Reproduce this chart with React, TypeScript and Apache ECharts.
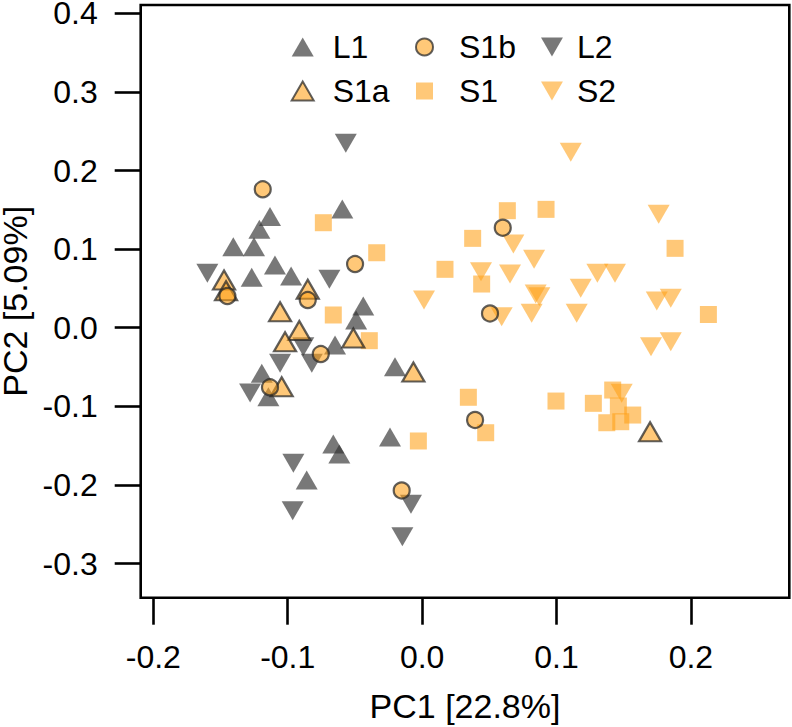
import React, { useEffect, useRef } from "react";
import * as echarts from "echarts";

const xTicks = [-0.2, -0.1, 0.0, 0.1, 0.2];
const yTicks = [-0.3, -0.2, -0.1, 0.0, 0.1, 0.2, 0.3, 0.4];

const L1 = [
  [-0.0594, 0.151], [-0.1132, 0.1415], [-0.1211, 0.1252], [-0.1405, 0.1031],
  [-0.1251, 0.1031], [-0.1268, 0.0641], [-0.1095, 0.0798], [-0.0975, 0.0658],
  [-0.0438, 0.0276], [-0.0491, 0.0099], [-0.0648, -0.0221], [-0.0202, -0.0496],
  [-0.1193, -0.058], [-0.1144, -0.0878], [-0.0239, -0.139], [-0.0661, -0.148],
  [-0.0616, -0.1607], [-0.0859, -0.1938],
];
const L2 = [
  [-0.0568, 0.2346], [-0.1598, 0.0692], [-0.069, 0.0616], [-0.1057, -0.0453],
  [-0.0884, -0.0242], [-0.0821, -0.0453], [-0.128, -0.0831], [-0.0958, -0.1725],
  [-0.0963, -0.2328], [-0.0083, -0.2247], [-0.0147, -0.2659],
];
const S1a = [
  [-0.1474, 0.0607], [-0.1459, 0.0471], [-0.0851, 0.0489], [-0.1057, 0.0204],
  [-0.0914, -0.0036], [-0.102, -0.0178], [-0.0512, -0.0131], [-0.1045, -0.0751],
  [-0.0065, -0.0564], [0.1696, -0.1323],
];
const S1b = [
  [-0.1186, 0.1761], [-0.0499, 0.081], [-0.1449, 0.0403], [-0.0851, 0.0352],
  [-0.0754, -0.0335], [-0.1132, -0.0758], [-0.0152, -0.2071], [0.06, 0.1272],
  [0.0505, 0.0181], [0.0394, -0.1174],
];
const S1 = [
  [-0.0735, 0.1336], [-0.0338, 0.0954], [-0.0661, 0.0162], [-0.0393, -0.0165],
  [-0.0028, -0.1441], [0.0634, 0.1489], [0.0922, 0.1506], [0.0376, 0.1137],
  [0.017, 0.0743], [0.0443, 0.0556], [0.1882, 0.101], [0.213, 0.0168],
  [0.0344, -0.0885], [0.0473, -0.1336], [0.0996, -0.0933], [0.1274, -0.0962],
  [0.1418, -0.0793], [0.146, -0.0996], [0.1567, -0.1111], [0.1374, -0.1209],
  [0.1478, -0.1196],
];
const S2 = [
  [0.1106, 0.2232], [0.0679, 0.1065], [0.176, 0.1443], [0.0833, 0.087],
  [0.0438, 0.0712], [0.0654, 0.0683], [0.1304, 0.0692], [0.1435, 0.0692],
  [0.118, 0.0501], [0.0845, 0.0429], [0.0872, 0.0394], [0.0014, 0.0352],
  [0.1746, 0.034], [0.185, 0.0374], [0.0592, 0.014], [0.0815, 0.0183],
  [0.115, 0.0183], [0.1703, -0.0242], [0.185, -0.0178], [0.1485, -0.0835],
];

const GREY = "rgba(51,51,51,0.83)";
const ORANGE = "rgba(255,160,20,0.72)";
const EDGE = "rgba(40,40,40,0.92)";
const DOWN = "path://M0,0L20,0L10,17.32Z";
const FONT = "Liberation Sans";
const FS = 32;
const FS_NAME = 34;

export default function App() {
  const ref = useRef<HTMLDivElement>(null);
  useEffect(() => {
    if (!ref.current) return;
    const chart = echarts.init(ref.current, null, { renderer: "svg" });
    const legendBase = {
      orient: "vertical",
      top: 31,
      padding: 0,
      itemGap: 12,
      selectedMode: false,
    };
    chart.setOption({
      animation: false,
      textStyle: { fontFamily: FONT, color: "#000" },
      grid: {
        left: 140.7,
        right: 2.7,
        top: 5,
        bottom: 129.3,
        show: true,
        borderColor: "#000",
        borderWidth: 2.6,
        backgroundColor: "transparent",
        containLabel: false,
        outerBoundsMode: "none",
      },
      legend: [
        {
          ...legendBase,
          left: 290.7,
          itemWidth: 22,
          itemHeight: 19,
          data: ["L1", "S1a"],
          textStyle: { fontFamily: FONT, fontSize: FS, color: "#000", padding: [0, 0, 0, 14] },
        },
        {
          ...legendBase,
          left: 415,
          itemWidth: 17,
          itemHeight: 17,
          data: ["S1b", "S1"],
          textStyle: { fontFamily: FONT, fontSize: FS, color: "#000", padding: [0, 0, 0, 21] },
        },
        {
          ...legendBase,
          left: 541,
          itemWidth: 22,
          itemHeight: 19,
          data: ["L2", "S2"],
          textStyle: { fontFamily: FONT, fontSize: FS, color: "#000", padding: [0, 0, 0, 9] },
        },
      ],
      xAxis: {
        type: "value",
        min: -0.2094,
        max: 0.2732,
        name: "PC1 [22.8%]",
        nameLocation: "middle",
        nameGap: 91,
        nameTextStyle: { fontFamily: FONT, fontSize: FS_NAME, color: "#000" },
        axisLine: { show: false, onZero: false },
        splitLine: { show: false },
        axisTick: {
          show: true,
          customValues: xTicks,
          length: 27,
          lineStyle: { color: "#000", width: 2.6 },
        },
        axisLabel: {
          customValues: xTicks,
          margin: 43,
          fontFamily: FONT,
          fontSize: FS,
          color: "#000",
          formatter: (v: number) => v.toFixed(1),
        },
      },
      yAxis: {
        type: "value",
        min: -0.3435,
        max: 0.4106,
        name: "PC2 [5.09%]",
        nameLocation: "middle",
        nameGap: 109,
        nameTextStyle: { fontFamily: FONT, fontSize: FS_NAME, color: "#000", lineHeight: 26 },
        axisLine: { show: false, onZero: false },
        splitLine: { show: false },
        axisTick: {
          show: true,
          customValues: yTicks,
          length: 26,
          lineStyle: { color: "#000", width: 2.6 },
        },
        axisLabel: {
          customValues: yTicks,
          margin: 43,
          fontFamily: FONT,
          fontSize: FS,
          lineHeight: 24,
          color: "#000",
          formatter: (v: number) => v.toFixed(1),
        },
      },
      series: [
        {
          name: "L1",
          type: "scatter",
          symbol: "triangle",
          symbolSize: [22, 19],
          itemStyle: { color: GREY },
          data: L1,
        },
        {
          name: "L2",
          type: "scatter",
          symbol: DOWN,
          symbolSize: [22, 19],
          itemStyle: { color: GREY },
          data: L2,
        },
        {
          name: "S1",
          type: "scatter",
          symbol: "rect",
          symbolSize: [17, 17],
          itemStyle: { color: ORANGE },
          data: S1,
        },
        {
          name: "S2",
          type: "scatter",
          symbol: DOWN,
          symbolSize: [22, 19],
          itemStyle: { color: ORANGE },
          data: S2,
        },
        {
          name: "S1a",
          type: "scatter",
          symbol: "triangle",
          symbolSize: [22, 19],
          itemStyle: { color: ORANGE, borderColor: EDGE, borderWidth: 2.2 },
          data: S1a,
        },
        {
          name: "S1b",
          type: "scatter",
          symbol: "circle",
          symbolSize: 16,
          itemStyle: { color: ORANGE, borderColor: EDGE, borderWidth: 2.2 },
          data: S1b,
        },
      ],
    });
    return () => chart.dispose();
  }, []);
  return (
    <div
      ref={ref}
      style={{ position: "absolute", left: 0, top: 0, width: 792, height: 727 }}
    />
  );
}
